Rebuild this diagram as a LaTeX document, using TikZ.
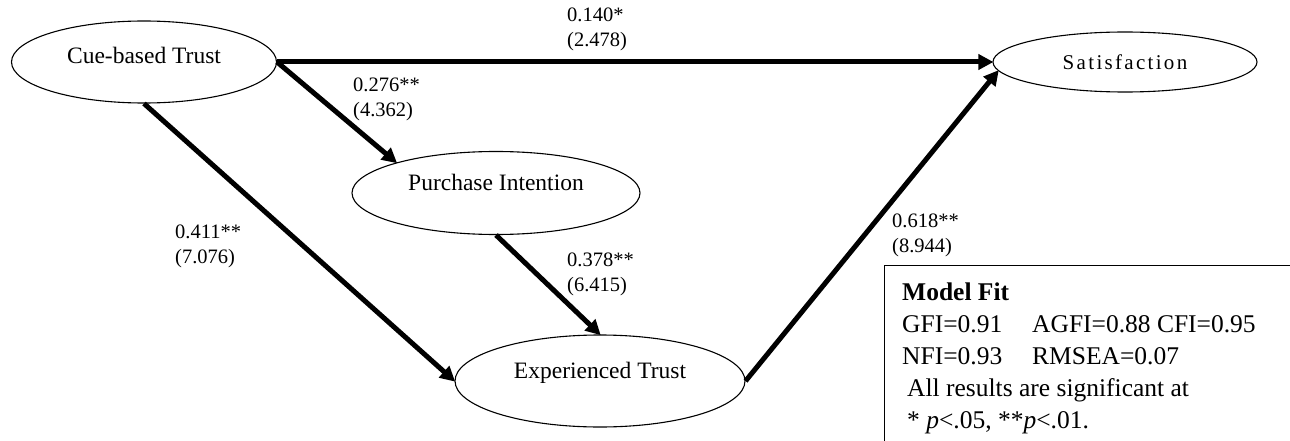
\documentclass[tikz,border=0pt]{standalone}
\usepackage{fontspec}
\setmainfont{Liberation Serif}
\usetikzlibrary{shapes.geometric,arrows.meta}

\begin{document}
\begin{tikzpicture}[x=1pt, y=-1pt,
    construct/.style={draw, ellipse, line width=1.1pt, inner sep=0pt,
        font=\fontsize{23.5}{28}\selectfont},
    effect/.style={line width=5pt, -{Triangle[length=15pt, width=15pt]}, shorten >=-1pt},
    coef/.style={align=left, anchor=west, inner sep=0pt,
        font=\fontsize{20.5}{25}\selectfont}]
    \useasboundingbox (0,0) rectangle (1290,441);

    % Constructs
    \node[construct, minimum width=265pt, minimum height=82pt,
          text height=17pt, text depth=13pt] (cue) at (144,62) {Cue-based Trust};
    \node[construct, minimum width=288pt, minimum height=83pt,
          text height=17pt, text depth=23pt] (pi) at (496,193) {Purchase Intention};
    \node[construct, minimum width=290pt, minimum height=92pt,
          text height=17pt, text depth=23pt] (exp) at (600,381) {Experienced Trust};
    \node[construct, minimum width=264pt, minimum height=60pt,
          font=\fontsize{21}{24}\selectfont\addfontfeatures{LetterSpace=11}] (sat) at (1125,62) {Satisfaction};

    % Paths
    \draw[effect] (cue.east) -- (sat.west);
    \draw[effect] (cue.east) -- (pi.163);
    \draw[effect] (cue.south) -- (exp.west);
    \draw[effect] (pi.south) -- (exp.north);
    \draw[effect] (exp.east) -- (sat.184);

    % Path coefficients (t-values)
    \node[coef] (c140) at (567,29) {0.140*\\(2.478)};
    \node[coef] (c276) at (353,99) {0.276**\\(4.362)};
    \node[coef] (c411) at (175,246) {0.411**\\(7.076)};
    \node[coef] (c378) at (567,274) {0.378**\\(6.415)};
    \node[coef] (c618) at (892,235) {0.618**\\(8.944)};

    % Model fit box
    \draw[line width=0.9pt] (1290,265) -- (884,265) -- (884,441);
    \node[align=left, anchor=north west, inner sep=0pt,
          font=\fontsize{25.5}{32}\selectfont] (fit) at (902,283)
        {\textbf{Model Fit}\\
         \makebox[130pt][l]{GFI=0.91}AGFI=0.88 CFI=0.95\\
         \makebox[130pt][l]{NFI=0.93}RMSEA=0.07\\
         \hspace*{5pt}All results are significant at\\
         \hspace*{5pt}* \textit{p}<.05, **\textit{p}<.01.};
\end{tikzpicture}
\end{document}
